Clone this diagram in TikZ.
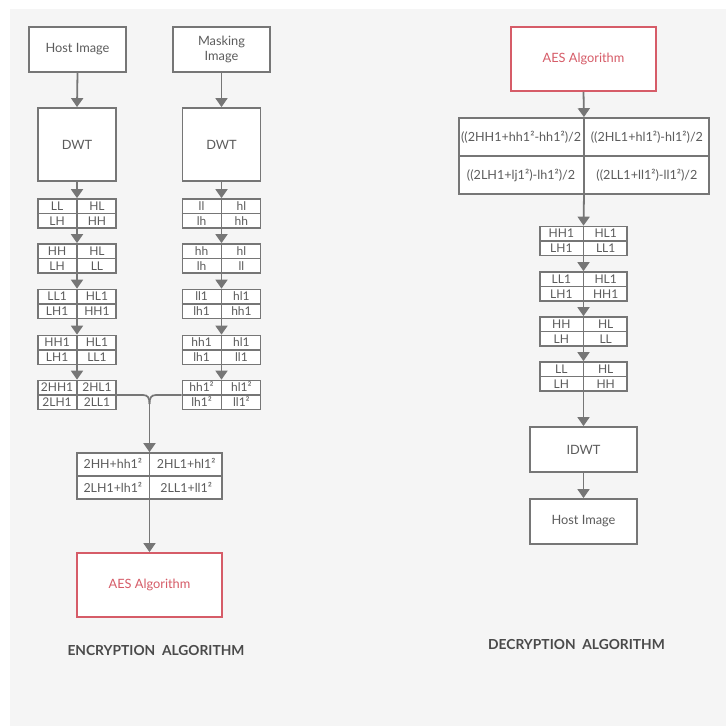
\documentclass[tikz,border=0pt]{standalone}
\usepackage{fontspec}
\setmainfont{Lato}
\usetikzlibrary{arrows.meta,calc}

\definecolor{linegray}{HTML}{767676}
\definecolor{textgray}{HTML}{5C5C5C}
\definecolor{aesred}{HTML}{D65C68}
\definecolor{paper}{HTML}{F5F5F5}
\definecolor{titlegray}{HTML}{4A4A4A}

\tikzset{
  box/.style={draw=linegray, line width=1.8pt, fill=white, text=textgray,
    font=\fontsize{12.8}{15}\selectfont, align=center, inner sep=0pt},
  aesbox/.style={box, draw=aesred, text=aesred},
  quad/.style={draw=linegray, line width=1.7pt, fill=white, inner sep=0pt},
  cell/.style={text=textgray, font=\fontsize{12}{13}\selectfont, inner sep=0pt,
    text height=8.6pt, text depth=0pt},
  flow/.style={draw=linegray, line width=1.8pt, -{Triangle[width=12pt,length=9pt]}},
  divline/.style={draw=linegray, line width=1.7pt},
  heading/.style={text=titlegray, font=\bfseries\fontsize{13.8}{16}\selectfont},
}

% name, centre, width, height, four labels
\newcommand{\quadbox}[8]{
  \node[quad, minimum width=#3, minimum height=#4] (#1) at #2 {};
  \draw[divline] (#1.north) -- (#1.south);
  \draw[divline] (#1.west) -- (#1.east);
  \node[cell] at ($(#1.center)!0.5!(#1.north west)$) {#5};
  \node[cell] at ($(#1.center)!0.5!(#1.north east)$) {#6};
  \node[cell] at ($(#1.center)!0.5!(#1.south west)$) {#7};
  \node[cell] at ($(#1.center)!0.5!(#1.south east)$) {#8};
}

\begin{document}
\begin{tikzpicture}[x=1pt, y=-1pt]
  \useasboundingbox (0,0) rectangle (726,726);
  \fill[paper] (10,9) rectangle (726,726);

  % encryption
  \node[box, minimum width=97pt, minimum height=45pt] (hostE) at (77.5,49.5) {Host Image};
  \node[box, minimum width=97pt, minimum height=45pt] (maskE) at (221.5,49.5) {Masking\\Image};
  \node[box, minimum width=78pt, minimum height=73pt] (dwtL) at (77,144.5) {DWT};
  \node[box, minimum width=78pt, minimum height=73pt] (dwtR) at (221.5,144.5) {DWT};

  \foreach \n/\y/\a/\b/\c/\d in {l1/213.5/LL/HL/LH/HH, l2/258.5/HH/HL/LH/LL,
      l3/304/LL1/HL1/LH1/HH1, l4/350/HH1/HL1/LH1/LL1, l5/395/2HH1/2HL1/2LH1/2LL1} {
    \quadbox{\n}{(77,\y)}{78pt}{29pt}{\a}{\b}{\c}{\d}
  }
  \foreach \n/\y/\a/\b/\c/\d in {m1/213.5/ll/hl/lh/hh, m2/258.5/hh/hl/lh/ll,
      m3/304/ll1/hl1/lh1/hh1, m4/350/hh1/hl1/lh1/ll1, m5/395/hh1²/hl1²/lh1²/ll1²} {
    \quadbox{\n}{(221.5,\y)}{78pt}{29pt}{\a}{\b}{\c}{\d}
  }

  \begin{scope}[cell/.append style={font=\fontsize{12.4}{14}\selectfont, text height=8.9pt}]
    \quadbox{mix}{(149.5,476)}{145pt}{46pt}{2HH+hh1²}{2HL1+hl1²}{2LH1+lh1²}{2LL1+ll1²}
  \end{scope}
  \node[aesbox, minimum width=145pt, minimum height=64pt] (aesE) at (149.5,585) {AES Algorithm};

  \foreach \a/\b in {hostE/dwtL, dwtL/l1, l1/l2, l2/l3, l3/l4, l4/l5,
      maskE/dwtR, dwtR/m1, m1/m2, m2/m3, m3/m4, m4/m5, mix/aesE}
    \draw[flow] (\a.south) -- (\b.north);

  \coordinate (fork) at (149.5,404);
  \draw[divline] (l5.east) -- (143,395) .. controls (148,395) and (149.5,398) .. (fork);
  \draw[divline] (m5.west) -- (156,395) .. controls (151,395) and (149.5,398) .. (fork);
  \draw[flow] (fork) -- (mix.north);

  \node[heading] (titleE) at (156,651) {ENCRYPTION\ \ ALGORITHM};

  % decryption
  \node[aesbox, minimum width=145pt, minimum height=64pt] (aesD) at (583.5,59) {AES Algorithm};
  \begin{scope}[cell/.append style={font=\fontsize{12.6}{14}\selectfont, text height=9pt}]
    \quadbox{big}{(584,156)}{250pt}{76pt}{((2HH1+hh1²-hh1²)/2}{((2HL1+hl1²)-hl1²)/2}{((2LH1+lj1²)-lh1²)/2}{((2LL1+ll1²)-ll1²)/2}
  \end{scope}
  \foreach \n/\y/\a/\b/\c/\d in {r1/241/HH1/HL1/LH1/LL1, r2/286.5/LL1/HL1/LH1/HH1,
      r3/331.5/HH/HL/LH/LL, r4/376.5/LL/HL/LH/HH} {
    \quadbox{\n}{(583.5,\y)}{87pt}{29pt}{\a}{\b}{\c}{\d}
  }
  \node[box, minimum width=107pt, minimum height=45pt] (idwt) at (583.5,449.5) {IDWT};
  \node[box, minimum width=107pt, minimum height=45pt] (hostD) at (583.5,521.5) {Host Image};

  \foreach \a/\b in {aesD/big, big/r1, r1/r2, r2/r3, r3/r4, r4/idwt, idwt/hostD}
    \draw[flow] (\a.south) -- (\b.north);

  \node[heading] (titleD) at (576.5,645) {DECRYPTION\ \ ALGORITHM};
\end{tikzpicture}
\end{document}
